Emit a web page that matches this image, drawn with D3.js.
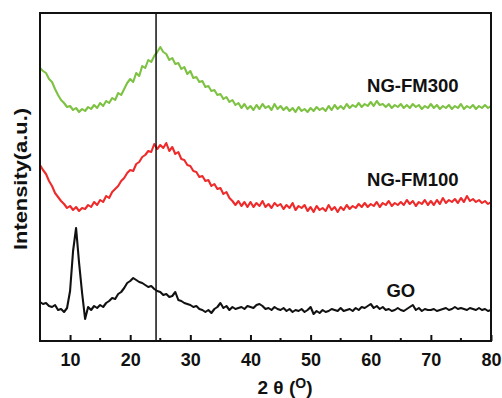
<!DOCTYPE html>
<html>
<head>
<meta charset="utf-8">
<script src="https://cdn.jsdelivr.net/npm/d3@7"></script>
<style>
  body { margin: 0; background: #fff; }
  text { font-family: "Liberation Sans", Arial, sans-serif; font-weight: bold; }
</style>
</head>
<body>
<div id="chart"></div>
<script>
/* XRD patterns of GO, NG-FM100 and NG-FM300 */

// 2θ grid: 5° to 80° in 0.5° steps
const angleStart = 5, angleStep = 0.5;

// intensities (a.u., offset traces)
const fm300 = [
  273,270,268,262,259,252,246,241,238,234,
  235,231,233,229,232,230,234,232,236,233,
  238,235,240,238,243,241,248,246,252,258,
  262,259,268,265,275,273,281,279,285,289,
  294,289,287,281,283,277,278,272,274,267,
  270,263,264,259,260,254,255,250,251,246,
  247,242,244,239,241,236,238,233,237,232,
  235,231,236,232,237,233,235,231,237,232,
  235,231,234,230,233,229,234,230,232,229,
  233,230,234,231,233,230,235,231,236,232,
  235,232,237,233,236,234,238,234,237,235,
  239,235,240,236,237,234,237,233,236,234,
  237,233,236,233,237,234,236,232,235,233,
  237,233,236,232,235,233,236,232,235,233,
  237,232,235,233,236,232,235,233,236,233,
  235
];

const fm100 = [
  176,171,167,160,155,148,144,140,137,133,
  135,131,134,130,133,132,136,134,139,136,
  141,139,145,143,149,152,155,160,163,168,
  171,170,177,179,184,186,190,189,197,192,
  196,193,198,190,194,187,189,182,181,176,
  175,170,169,164,165,160,161,155,157,152,
  153,147,149,143,140,136,140,135,139,134,
  139,134,138,135,140,134,137,133,138,135,
  137,132,136,133,138,131,135,133,136,130,
  134,129,135,131,133,130,136,131,134,129,
  134,131,136,132,135,133,137,134,138,134,
  137,135,139,134,138,136,140,135,138,136,
  139,136,141,137,140,135,139,137,141,136,
  140,136,141,137,143,138,141,139,142,138,
  143,139,145,140,142,139,141,138,140,137,
  139
];

const go = [
  39,37,38,35,34,36,31,32,29,33,
  50,90,113,78,48,22,34,31,35,33,
  36,34,38,40,43,42,47,49,53,58,
  60,63,61,59,58,56,54,55,52,50,
  49,46,47,44,45,49,41,40,38,37,
  36,34,35,32,31,29,31,28,32,34,
  38,33,35,31,34,32,33,34,32,35,
  34,33,36,37,35,32,33,31,34,32,
  31,33,30,32,29,31,30,32,29,31,
  34,27,30,28,31,29,30,32,31,30,
  33,30,31,32,30,33,31,34,33,35,
  37,33,35,32,34,31,32,30,31,33,
  31,30,32,34,36,31,33,30,32,31,
  31,32,30,31,32,33,31,32,34,32,
  33,32,31,33,32,31,33,31,32,30,
  31
];

const seriesNames = ["NG-FM300", "NG-FM100", "GO"];
const seriesColors = ["#7dc242", "#ee2a2a", "#111111"];
const labelPos = [[67, 249], [67, 155], [65, 44]];   // [2θ, intensity] for trace labels
const markerAngle = 24.3;                              // vertical reference line
const xTicks = [10, 20, 30, 40, 50, 60, 70, 80];
const xMinor = [15, 25, 35, 45, 55, 65, 75];

const width = 502, height = 398,
      margin = ({ top: 13, right: 11, bottom: 57, left: 40 });

let svg = d3.select("#chart")
    .append("svg")
    .attr("width", width)
    .attr("height", height);

let x = d3.scaleLinear()
    .domain([5, 80])
    .range([margin.left, width - margin.right]);

let y = d3.scaleLinear()
    .domain([0, 328])
    .range([height - margin.bottom, margin.top]);

let line = d3.line()
    .x((d, i) => x(angleStart + i * angleStep))
    .y(d => y(d));

[fm300, fm100, go].forEach((s, k) => {
    svg.append("path")
        .datum(s)
        .attr("fill", "none")
        .attr("stroke", seriesColors[k])
        .attr("stroke-width", 2.1)
        .attr("stroke-linejoin", "round")
        .attr("d", line);
});

// vertical reference line
svg.append("line")
    .attr("x1", x(markerAngle)).attr("x2", x(markerAngle))
    .attr("y1", y(328)).attr("y2", y(0))
    .attr("stroke", "#111")
    .attr("stroke-width", 1.5);

// bottom axis with inward ticks
let xAxis = svg.append("g")
    .attr("transform", `translate(0,${height - margin.bottom})`)
    .call(d3.axisBottom(x).tickValues(xTicks).tickSizeInner(-6).tickSizeOuter(0).tickPadding(12));
xAxis.select(".domain").remove();
xAxis.selectAll("line").attr("stroke", "#111").attr("stroke-width", 2);
xAxis.selectAll("text").style("font-size", "18px").attr("fill", "#111");

svg.append("g")
    .attr("transform", `translate(0,${height - margin.bottom})`)
    .selectAll("line")
    .data(xMinor)
    .join("line")
    .attr("x1", d => x(d)).attr("x2", d => x(d))
    .attr("y1", 0).attr("y2", -3)
    .attr("stroke", "#111").attr("stroke-width", 2);

// frame
svg.append("rect")
    .attr("x", margin.left).attr("y", margin.top)
    .attr("width", width - margin.left - margin.right)
    .attr("height", height - margin.top - margin.bottom)
    .attr("fill", "none")
    .attr("stroke", "#111")
    .attr("stroke-width", 2);

// trace labels
svg.selectAll(".lab")
    .data(seriesNames)
    .join("text")
    .attr("class", "lab")
    .attr("x", (d, i) => x(labelPos[i][0]))
    .attr("y", (d, i) => y(labelPos[i][1]))
    .attr("text-anchor", "middle")
    .style("font-size", "18.5px")
    .attr("fill", "#111")
    .text(d => d);

// axis titles
let xt = svg.append("text")
    .attr("x", 285)
    .attr("y", 394)
    .attr("text-anchor", "middle")
    .style("font-size", "19px")
    .attr("fill", "#111");
xt.append("tspan").text("2 θ  (");
xt.append("tspan").attr("dy", -6).style("font-size", "14px").text("O");
xt.append("tspan").attr("dy", 6).text(")");

svg.append("text")
    .attr("transform", `translate(27,${(margin.top + height - margin.bottom) / 2 + 2}) rotate(-90)`)
    .attr("text-anchor", "middle")
    .attr("textLength", 142)
    .attr("lengthAdjust", "spacingAndGlyphs")
    .style("font-size", "18px")
    .attr("fill", "#111")
    .text("Intensity(a.u.)");
</script>
</body>
</html>
